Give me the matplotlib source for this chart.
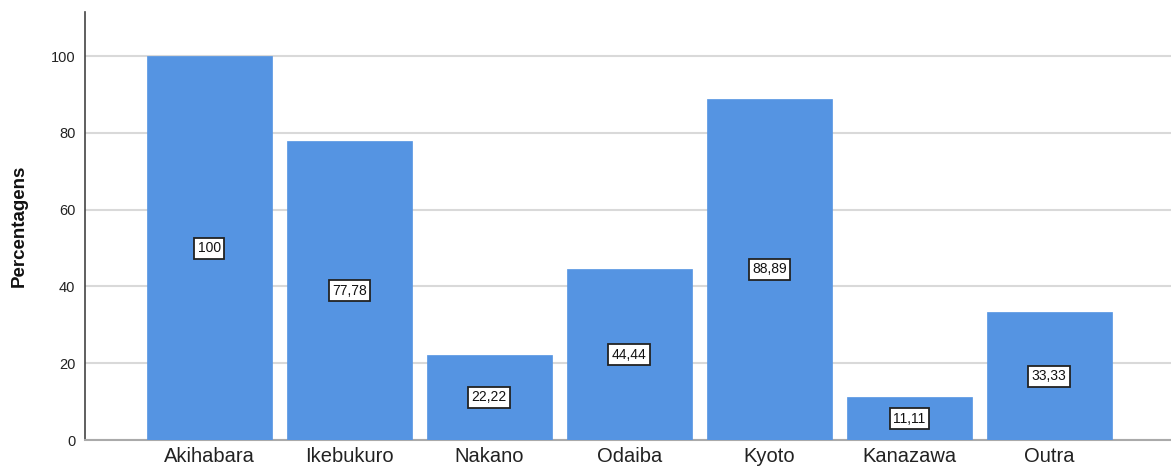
import matplotlib
matplotlib.use("Agg")
import matplotlib.pyplot as plt

categories = ["Akihabara", "Ikebukuro", "Nakano", "Odaiba", "Kyoto", "Kanazawa", "Outra"]
values = [100, 77.78, 22.22, 44.44, 88.89, 11.11, 33.33]
labels = ["100", "77,78", "22,22", "44,44", "88,89", "11,11", "33,33"]
yticks = [0, 20, 40, 60, 80, 100]

plt.rcParams['font.family'] = ['Liberation Sans', 'DejaVu Sans']

fig = plt.figure(figsize=(11.71, 4.69), dpi=100)
ax = fig.add_axes([85/1171, 29/469, 1 - 85/1171, (440-12)/469])

x = list(range(len(categories)))
ax.bar(x, values, width=0.893, color="#5594e2", edgecolor="#5594e2", linewidth=0.5, zorder=3)

for xi, v, lab in zip(x, values, labels):
    ax.text(xi, v / 2, lab, ha="center", va="center", fontsize=10, color="#111111", zorder=5,
            bbox=dict(boxstyle="square,pad=0.25", facecolor="white", edgecolor="#222222", linewidth=1.3))

ax.set_xlim(-0.889, 6.87)
ax.set_ylim(0, 111.5)
ax.set_xticks(x)
ax.set_xticklabels(categories, fontsize=14.5, color="#222222")
ax.set_yticks(yticks)
ax.set_yticklabels([str(t) for t in yticks], fontsize=10.5, color="#222222")
ax.tick_params(axis="both", length=0, pad=7)
ax.tick_params(axis="x", pad=5)

ax.yaxis.grid(True, color="#d9d9d9", linewidth=1.5, zorder=0)
ax.set_axisbelow(True)

for s in ["top", "right"]:
    ax.spines[s].set_visible(False)
ax.spines["left"].set_color("#444444")
ax.spines["left"].set_linewidth(1.2)
ax.spines["bottom"].set_color("#aaaaaa")
ax.spines["bottom"].set_linewidth(1.5)

ax.set_ylabel("Percentagens", fontsize=13.5, fontweight="bold", color="#111111")
ax.yaxis.set_label_coords(-0.053, 0.5)

fig.savefig("out.png", dpi=100)
